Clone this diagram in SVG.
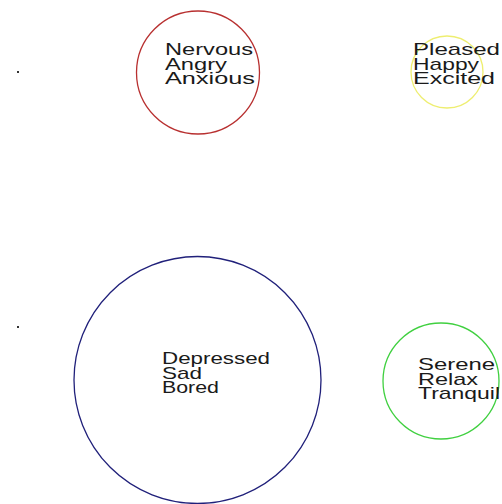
<svg xmlns="http://www.w3.org/2000/svg" width="502" height="504" viewBox="0 0 502 504">
<style>
.c{fill:none;stroke-width:1.3}
.t{font-family:"Liberation Sans",Arial,sans-serif;font-size:17px;fill:#1a1a1a}
</style>
<rect width="502" height="504" fill="#ffffff"/>
<g id="dots"><rect x="17" y="71" width="2" height="2" fill="#333"/><rect x="17" y="326" width="2" height="2" fill="#333"/></g>
<g id="node-anxious">
<circle class="c" cx="198" cy="72.5" r="61.5" stroke="#b83030"/>
<text class="t"><tspan x="165" y="55" textLength="88" lengthAdjust="spacingAndGlyphs">Nervous</tspan><tspan x="165" y="69.5" textLength="62" lengthAdjust="spacingAndGlyphs">Angry</tspan><tspan x="165" y="84" textLength="90" lengthAdjust="spacingAndGlyphs">Anxious</tspan></text>
</g>
<g id="node-happy">
<circle class="c" cx="447" cy="72" r="36" stroke="#eeee70"/>
<text class="t"><tspan x="413" y="55" textLength="87" lengthAdjust="spacingAndGlyphs">Pleased</tspan><tspan x="413" y="69.5" textLength="66" lengthAdjust="spacingAndGlyphs">Happy</tspan><tspan x="413" y="84" textLength="82" lengthAdjust="spacingAndGlyphs">Excited</tspan></text>
</g>
<g id="node-sad">
<circle class="c" cx="197.5" cy="380" r="123.5" stroke="#20207a"/>
<text class="t"><tspan x="162" y="364" textLength="108" lengthAdjust="spacingAndGlyphs">Depressed</tspan><tspan x="162" y="378.5" textLength="40" lengthAdjust="spacingAndGlyphs">Sad</tspan><tspan x="162" y="393" textLength="57" lengthAdjust="spacingAndGlyphs">Bored</tspan></text>
</g>
<g id="node-calm">
<circle class="c" cx="441" cy="381" r="58" stroke="#40d040"/>
<text class="t"><tspan x="418" y="370" textLength="77" lengthAdjust="spacingAndGlyphs">Serene</tspan><tspan x="418" y="384.5" textLength="60" lengthAdjust="spacingAndGlyphs">Relax</tspan><tspan x="418" y="399" textLength="82" lengthAdjust="spacingAndGlyphs">Tranquil</tspan></text>
</g>
<g id="connectors"/>
</svg>
